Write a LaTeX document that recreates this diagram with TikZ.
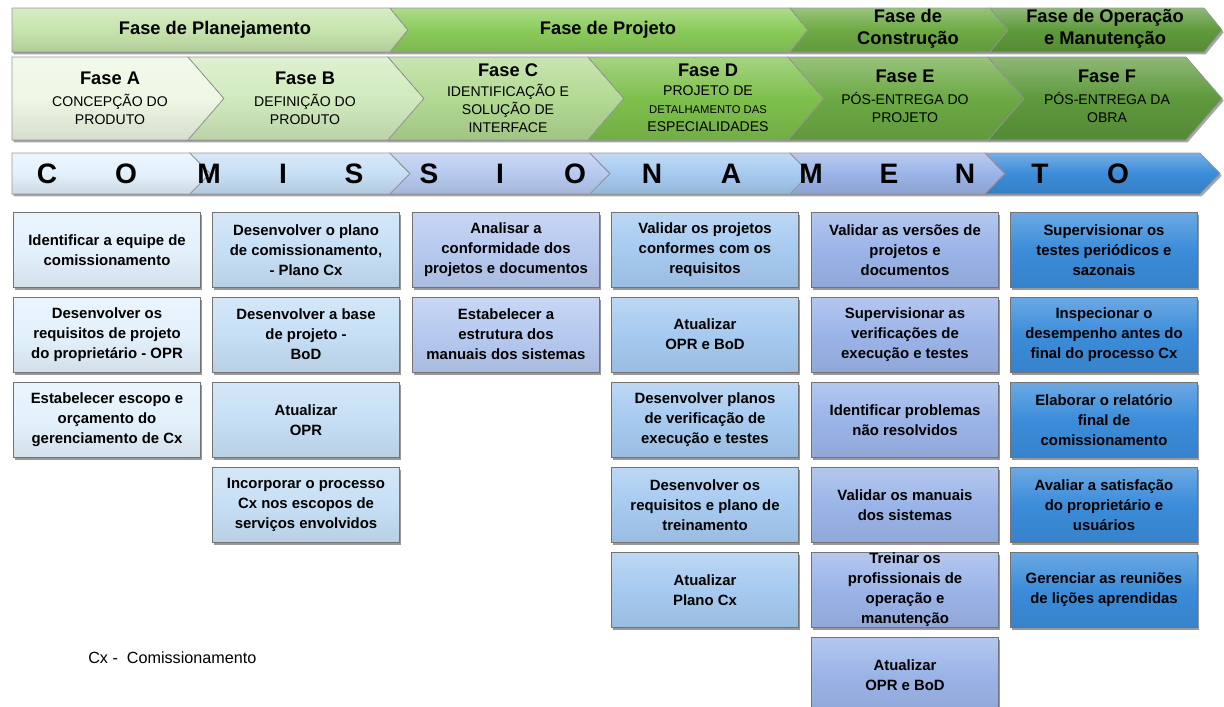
\documentclass[tikz,border=0pt]{standalone}
\usepackage{fontspec}
\setmainfont{Liberation Sans}
\usetikzlibrary{shadows}

% phase bars
\definecolor{gA}{HTML}{C6E4AC}
\definecolor{gB}{HTML}{8ACB5A}
\definecolor{gC}{HTML}{6DAA44}
\definecolor{gD}{HTML}{5F9A3C}
% sub-phase chevrons
\definecolor{hA}{HTML}{EDF7E3}
\definecolor{hB}{HTML}{D1EABD}
\definecolor{hC}{HTML}{B2DA92}
\definecolor{hD}{HTML}{7EC04C}
\definecolor{hE}{HTML}{6CA944}
\definecolor{hF}{HTML}{5E993D}
% letter band and task boxes
\definecolor{bA}{HTML}{E3F1FC}
\definecolor{bB}{HTML}{C6DFF5}
\definecolor{bC}{HTML}{B6C9EF}
\definecolor{bD}{HTML}{A6CAF0}
\definecolor{bE}{HTML}{9BB4E8}
\definecolor{bF}{HTML}{3B8CDA}

\newcommand\taskfont{\fontsize{10.6}{14.2}\selectfont\bfseries}
\newcommand\headfont{\fontsize{13}{15.6}\selectfont\bfseries}
\newcommand\subfont{\fontsize{10}{12.8}\selectfont}
\newcommand\letterfont{\fontsize{20}{22}\selectfont\bfseries}

% chevron segment: x-left, x-right, y-top, y-bottom, tip depth, colour, notch (1) or flat (0)
\newcommand\seg[7]{%
  \pgfmathsetmacro\segmid{(#3+#4)/2}%
  \pgfmathsetmacro\segtip{#2+#5}%
  \pgfmathsetmacro\segin{#1+#5*#7}%
  \filldraw[segment, top color=#6!70!white, bottom color=#6!90!black, middle color=#6]
    (#1,#3) -- (#2,#3) -- (\segtip,\segmid) -- (#2,#4) -- (#1,#4) -- (\segin,\segmid) -- cycle;
}

\tikzset{
  segment/.style={draw=black!40, line width=0.5pt,
    drop shadow={shadow xshift=1.2pt, shadow yshift=-1.6pt, opacity=0.35, fill=black}},
  task/.style={draw=black!55, line width=0.6pt,
    minimum width=187*0.025cm, minimum height=75*0.025cm, inner sep=0pt,
    align=center, font=\taskfont,
    top color=#1!75!white, bottom color=#1!93!black, middle color=#1,
    drop shadow={shadow xshift=1.3pt, shadow yshift=-1.8pt, opacity=0.4, fill=black}},
  phase/.style={align=center, font=\headfont},
  subphase/.style={align=center, font=\subfont},
  letter/.style={font=\letterfont, inner sep=0pt}
}

\begin{document}
\begin{tikzpicture}[x=0.025cm, y=-0.025cm]
\useasboundingbox (0,0) rectangle (1224,706);

% ---- phase bars ----
\seg{12}{390}{8}{52}{18}{gA}{0}
\seg{390}{790}{8}{52}{18}{gB}{1}
\seg{790}{990}{8}{52}{18}{gC}{1}
\seg{990}{1204}{8}{52}{18}{gD}{1}
\node[phase] (planej) at (215,30) {Fase de Planejamento};
\node[phase] (proj)   at (608,30) {Fase de Projeto};
\node[phase] (constr) at (908,29) {Fase de\\Construção};
\node[phase] (oper)   at (1105,29) {Fase de Operação\\e Manutenção};

% ---- sub-phases A to F ----
\seg{12}{188}{57}{140}{36}{hA}{0}
\seg{188}{388}{57}{140}{36}{hB}{1}
\seg{388}{588}{57}{140}{36}{hC}{1}
\seg{588}{788}{57}{140}{36}{hD}{1}
\seg{788}{988}{57}{140}{36}{hE}{1}
\seg{988}{1186}{57}{140}{36}{hF}{1}
\node[subphase] (fa) at (110,98) {{\headfont Fase A}\\[3pt]CONCEPÇÃO DO\\PRODUTO};
\node[subphase] (fb) at (305,98) {{\headfont Fase B}\\[3pt]DEFINIÇÃO DO\\PRODUTO};
\node[subphase] (fc) at (508,98) {{\headfont Fase C}\\[1pt]IDENTIFICAÇÃO E\\SOLUÇÃO DE\\INTERFACE};
\node[subphase] (fd) at (708,98) {{\headfont Fase D}\\[1pt]PROJETO DE\\{\fontsize{8}{10}\selectfont DETALHAMENTO DAS}\\ESPECIALIDADES};
\node[subphase] (fe) at (905,96) {{\headfont Fase E}\\[3pt]PÓS-ENTREGA DO\\PROJETO};
\node[subphase] (ff) at (1107,96) {{\headfont Fase F}\\[3pt]PÓS-ENTREGA DA\\OBRA};

% ---- COMISSIONAMENTO band ----
\seg{12}{190}{153}{194}{20}{bA}{0}
\seg{190}{390}{153}{194}{20}{bB}{1}
\seg{390}{590}{153}{194}{20}{bC}{1}
\seg{590}{790}{153}{194}{20}{bD}{1}
\seg{790}{985}{153}{194}{20}{bE}{1}
\seg{985}{1200}{153}{194}{20}{bF}{1}
\foreach \ch/\lx [count=\k] in {C/47,O/126,M/209,I/283,S/354,S/429,I/500,O/575,N/652,A/731,M/811,E/889,N/965,T/1040,O/1118}
  \node[letter] (ltr\k) at (\lx,174) {\ch};

% ---- tasks ----
\node[task=bA] (a1) at (107,250)   {Identificar a equipe de\\comissionamento};
\node[task=bA] (a2) at (107,334.5) {Desenvolver os\\requisitos de projeto\\do proprietário - OPR};
\node[task=bA] (a3) at (107,420)   {Estabelecer escopo e\\orçamento do\\gerenciamento de Cx};

\node[task=bB] (b1) at (306,250)   {Desenvolver o plano\\de comissionamento,\\- Plano Cx};
\node[task=bB] (b2) at (306,334.5) {Desenvolver a base\\de projeto -\\BoD};
\node[task=bB] (b3) at (306,420)   {Atualizar\\OPR};
\node[task=bB] (b4) at (306,505)   {Incorporar o processo\\Cx nos escopos de\\serviços envolvidos};

\node[task=bC] (c1) at (506,250)   {Analisar a\\conformidade dos\\projetos e documentos};
\node[task=bC] (c2) at (506,334.5) {Estabelecer a\\estrutura dos\\manuais dos sistemas};

\node[task=bD] (d1) at (705,250)   {Validar os projetos\\conformes com os\\requisitos};
\node[task=bD] (d2) at (705,334.5) {Atualizar\\OPR e BoD};
\node[task=bD] (d3) at (705,420)   {Desenvolver planos\\de verificação de\\execução e testes};
\node[task=bD] (d4) at (705,505)   {Desenvolver os\\requisitos e plano de\\treinamento};
\node[task=bD] (d5) at (705,590)   {Atualizar\\Plano Cx};

\node[task=bE] (e1) at (905,250)   {Validar as versões de\\projetos e\\documentos};
\node[task=bE] (e2) at (905,334.5) {Supervisionar as\\verificações de\\execução e testes};
\node[task=bE] (e3) at (905,420)   {Identificar problemas\\não resolvidos};
\node[task=bE] (e4) at (905,505)   {Validar os manuais\\dos sistemas};
\node[task=bE] (e5) at (905,590)   {Treinar os\\profissionais de\\operação e\\manutenção};
\node[task=bE] (e6) at (905,675)   {Atualizar\\OPR e BoD};

\node[task=bF] (f1) at (1104,250)   {Supervisionar os\\testes periódicos e\\sazonais};
\node[task=bF] (f2) at (1104,334.5) {Inspecionar o\\desempenho antes do\\final do processo Cx};
\node[task=bF] (f3) at (1104,420)   {Elaborar o relatório\\final de\\comissionamento};
\node[task=bF] (f4) at (1104,505)   {Avaliar a satisfação\\do proprietário e\\usuários};
\node[task=bF] (f5) at (1104,590)   {Gerenciar as reuniões\\de lições aprendidas};

% ---- legend ----
\node[anchor=west, inner sep=0pt, font=\fontsize{11.5}{14}\selectfont] (legend) at (88,658) {Cx -\ \ Comissionamento};
\end{tikzpicture}
\end{document}
